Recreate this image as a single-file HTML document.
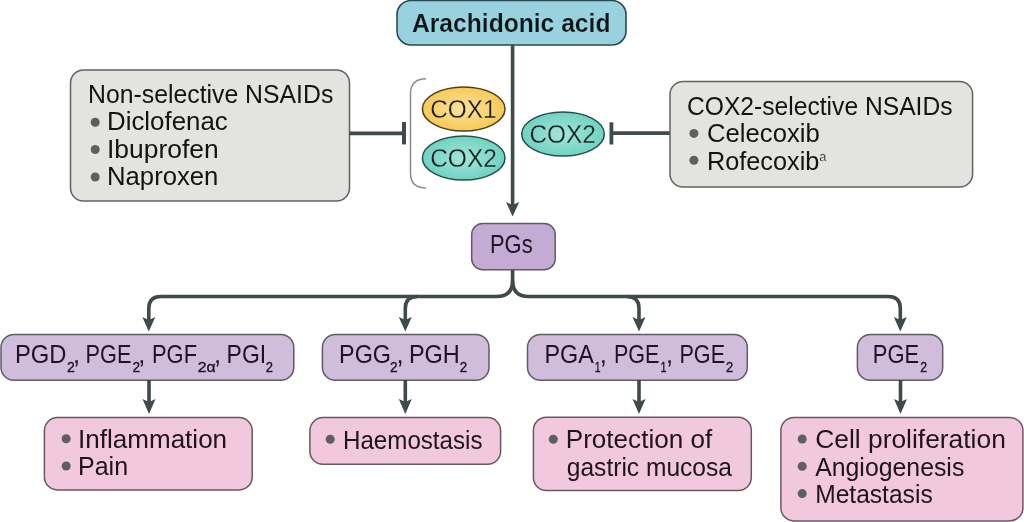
<!DOCTYPE html>
<html>
<head>
<meta charset="utf-8">
<style>
html,body{margin:0;padding:0;background:#ffffff;width:1024px;height:522px;overflow:hidden;}
svg{display:block;will-change:transform;}
text{font-family:"Liberation Sans",sans-serif;stroke-width:0;}
.t{font-size:25.8px;fill:#141312;stroke:#e3e3df;}
.b{font-weight:bold;font-size:25px;fill:#0c1416;stroke:#98d2de;stroke-width:0.2;}
.tp{font-size:25.5px;fill:#1e1226;stroke:#cfbddb;}
.t2{font-size:25px;fill:#1e141b;stroke:#f2c8df;}
.tcy{font-size:26.5px;fill:#1a1a10;stroke:#f8d888;stroke-width:0.3;}
.tct{font-size:26.5px;fill:#0e1f1e;stroke:#8edbcd;stroke-width:0.3;}
.sub{font-size:14.5px;stroke:#1e1226;stroke-width:0.35;}
.sup{font-size:13px;stroke-width:0.2;}
.bul{fill:#5f5e62;}
.ln{stroke:#3e4a4b;fill:none;stroke-width:3.6;}
.ah{fill:#3e4a4b;}
.bxb{fill:#98d2de;stroke:#2a4a52;stroke-width:1.6;}
.bxg{fill:#e3e3df;stroke:#626262;stroke-width:1.5;}
.bxp{fill:#cfbddb;stroke:#625a66;stroke-width:1.5;}
.bxk{fill:#f2c8df;stroke:#665a61;stroke-width:1.5;}
.ely{stroke:#4a3f20;stroke-width:1.5;}
.elt{stroke:#23514b;stroke-width:1.5;}

</style>
</head>
<body>
<svg width="1024" height="522" viewBox="0 0 1024 522">
<defs>
  <radialGradient id="gy" cx="50%" cy="50%" r="50%">
    <stop offset="0%" stop-color="#fde3a0"/>
    <stop offset="100%" stop-color="#f7c956"/>
  </radialGradient>
  <radialGradient id="gt" cx="50%" cy="50%" r="50%">
    <stop offset="0%" stop-color="#a6e6da"/>
    <stop offset="100%" stop-color="#70d2c0"/>
  </radialGradient>
</defs>

<!-- Arachidonic acid -->
<rect x="397" y="0.5" width="229" height="44.5" rx="14" ry="14" class="bxb"/>

<!-- main vertical line -->
<line x1="512.6" y1="45" x2="512.6" y2="206" class="ln"/>
<path d="M506 202 L512.6 205 L519.2 202 L512.6 216.5 Z" class="ah"/>

<!-- Left grey box -->
<rect x="70.5" y="70" width="279" height="131" rx="13" ry="13" class="bxg"/>

<!-- left inhibitor -->
<line x1="349.5" y1="133.4" x2="404" y2="133.4" class="ln"/>
<rect x="402" y="122" width="4" height="22.4" class="ah"/>

<!-- bracket -->
<path d="M426 78.7 Q410.5 78.7 410.5 94 L410.5 173 Q410.5 188 426 188" fill="none" stroke="#8c8c8c" stroke-width="1.5"/>

<!-- COX ellipses -->
<ellipse cx="463.7" cy="109" rx="41.3" ry="22" fill="url(#gy)" class="ely"/>
<ellipse cx="463.7" cy="158" rx="41.3" ry="22" fill="url(#gt)" class="elt"/>
<ellipse cx="563" cy="134" rx="41.3" ry="22" fill="url(#gt)" class="elt"/>

<!-- right inhibitor -->
<line x1="611" y1="133.1" x2="670" y2="133.1" class="ln"/>
<rect x="609.5" y="122.3" width="3.8" height="22.2" class="ah"/>

<!-- Right grey box -->
<rect x="670" y="81.5" width="302.6" height="105.5" rx="13" ry="13" class="bxg"/>

<!-- PGs -->
<rect x="471.7" y="223.6" width="83.5" height="46.2" rx="11" ry="11" class="bxp" style="fill:#c4abd4"/>

<!-- branch lines -->
<path d="M512.6 270 L512.6 280.5 Q512.6 296.5 496.6 296.5 L160.8 296.5 Q148.8 296.5 148.8 308.5 L148.8 320" class="ln"/>
<path d="M512.6 280.5 Q512.6 296.5 528.6 296.5 L888.3 296.5 Q900.3 296.5 900.3 308.5 L900.3 320" class="ln"/>
<path d="M417.3 296.5 Q405.3 296.5 405.3 308.5 L405.3 320" class="ln"/>
<path d="M627 296.5 Q639 296.5 639 308.5 L639 320" class="ln"/>
<path d="M142.3 317 L148.8 320 L155.3 317 L148.8 331.5 Z" class="ah"/>
<path d="M398.8 317 L405.3 320 L411.8 317 L405.3 331.5 Z" class="ah"/>
<path d="M632.5 317 L639 320 L645.5 317 L639 331.5 Z" class="ah"/>
<path d="M893.8 317 L900.3 320 L906.8 317 L900.3 331.5 Z" class="ah"/>

<!-- Purple row -->
<rect x="1" y="334.5" width="292.8" height="45.8" rx="13" ry="13" class="bxp"/>
<rect x="322.4" y="334.5" width="166.6" height="45.8" rx="13" ry="13" class="bxp"/>
<rect x="527.5" y="334.5" width="219.8" height="45.8" rx="13" ry="13" class="bxp"/>
<rect x="857.4" y="334.5" width="85.3" height="45.8" rx="13" ry="13" class="bxp"/>

<!-- arrows to pink -->
<line x1="149" y1="380" x2="149" y2="402" class="ln"/>
<path d="M142.5 399 L149 402 L155.5 399 L149 414 Z" class="ah"/>
<line x1="405.3" y1="380" x2="405.3" y2="402" class="ln"/>
<path d="M398.8 399 L405.3 402 L411.8 399 L405.3 414 Z" class="ah"/>
<line x1="639" y1="380" x2="639" y2="402" class="ln"/>
<path d="M632.5 399 L639 402 L645.5 399 L639 414 Z" class="ah"/>
<line x1="900.5" y1="380" x2="900.5" y2="402" class="ln"/>
<path d="M894 399 L900.5 402 L907 399 L900.5 414 Z" class="ah"/>

<!-- Pink row -->
<rect x="44.4" y="417.6" width="207.8" height="72.3" rx="13" ry="13" class="bxk"/>

<rect x="309.9" y="417.6" width="190.7" height="46.7" rx="13" ry="13" class="bxk"/>

<rect x="533.4" y="417.2" width="217.9" height="73.4" rx="13" ry="13" class="bxk"/>

<rect x="780.9" y="417.5" width="242" height="103.4" rx="13" ry="13" class="bxk"/>

<!-- bullets -->
<circle cx="95.2" cy="122.2" r="4.5" class="bul"/>
<circle cx="95.2" cy="149.5" r="4.5" class="bul"/>
<circle cx="95.2" cy="177.0" r="4.5" class="bul"/>
<circle cx="693.9" cy="133.4" r="4.5" class="bul"/>
<circle cx="693.9" cy="160.3" r="4.5" class="bul"/>
<circle cx="66.2" cy="438.8" r="4.5" class="bul"/>
<circle cx="66.2" cy="466.0" r="4.5" class="bul"/>
<circle cx="330.2" cy="439.2" r="4.5" class="bul"/>
<circle cx="553.3" cy="439.2" r="4.5" class="bul"/>
<circle cx="802.2" cy="439.0" r="4.5" class="bul"/>
<circle cx="802.2" cy="466.3" r="4.5" class="bul"/>
<circle cx="802.2" cy="493.6" r="4.5" class="bul"/>

<text x="412.00" y="31.6" class="t b" textLength="198.45" lengthAdjust="spacingAndGlyphs">Arachidonic acid</text>
<text x="88.00" y="103" class="t" textLength="245.31" lengthAdjust="spacingAndGlyphs">Non-selective NSAIDs</text>
<text x="107.00" y="130.3" class="t" textLength="120.73" lengthAdjust="spacingAndGlyphs">Diclofenac</text>
<text x="107.00" y="157.5" class="t" textLength="111.64" lengthAdjust="spacingAndGlyphs">Ibuprofen</text>
<text x="107.00" y="185" class="t" textLength="111.41" lengthAdjust="spacingAndGlyphs">Naproxen</text>
<text x="430.20" y="118.2" class="tcy" textLength="66.29" lengthAdjust="spacingAndGlyphs">COX1</text>
<text x="430.20" y="167.1" class="tct" textLength="66.69" lengthAdjust="spacingAndGlyphs">COX2</text>
<text x="529.50" y="143.4" class="tct" textLength="66.29" lengthAdjust="spacingAndGlyphs">COX2</text>
<text x="687.00" y="115" class="t" textLength="265.53" lengthAdjust="spacingAndGlyphs">COX2-selective NSAIDs</text>
<text x="707.00" y="142.2" class="t" textLength="112.78" lengthAdjust="spacingAndGlyphs">Celecoxib</text>
<text x="707.00" y="169.5" class="t" textLength="119.41" lengthAdjust="spacingAndGlyphs">Rofecoxib<tspan class="sup" dy="-9">a</tspan></text>
<text x="490.00" y="252.6" class="tp" textLength="42.59" lengthAdjust="spacingAndGlyphs">PGs</text>
<text x="14.90" y="363.2" class="tp" textLength="51.47" lengthAdjust="spacingAndGlyphs">PGD</text>
<text x="67.00" y="372.4" class="tp sub" textLength="7.83" lengthAdjust="spacingAndGlyphs">2</text>
<text x="73.00" y="363.2" class="tp">,</text>
<text x="85.60" y="363.2" class="tp" textLength="45.86" lengthAdjust="spacingAndGlyphs">PGE</text>
<text x="132.60" y="372.4" class="tp sub" textLength="7.63" lengthAdjust="spacingAndGlyphs">2</text>
<text x="138.20" y="363.2" class="tp">,</text>
<text x="152.00" y="363.2" class="tp" textLength="45.02" lengthAdjust="spacingAndGlyphs">PGF</text>
<text x="197.70" y="372.4" class="tp sub" textLength="17.95" lengthAdjust="spacingAndGlyphs">2α</text>
<text x="214.00" y="363.2" class="tp">,</text>
<text x="226.60" y="363.2" class="tp" textLength="39.54" lengthAdjust="spacingAndGlyphs">PGI</text>
<text x="265.80" y="372.4" class="tp sub" textLength="7.23" lengthAdjust="spacingAndGlyphs">2</text>
<text x="339.10" y="363.2" class="tp" textLength="51.89" lengthAdjust="spacingAndGlyphs">PGG</text>
<text x="390.00" y="372.4" class="tp sub" textLength="7.63" lengthAdjust="spacingAndGlyphs">2</text>
<text x="396.40" y="363.2" class="tp">,</text>
<text x="408.90" y="363.2" class="tp" textLength="50.87" lengthAdjust="spacingAndGlyphs">PGH</text>
<text x="459.80" y="372.4" class="tp sub" textLength="7.43" lengthAdjust="spacingAndGlyphs">2</text>
<text x="544.50" y="363.2" class="tp" textLength="49.26" lengthAdjust="spacingAndGlyphs">PGA</text>
<text x="594.70" y="372.4" class="tp sub" textLength="5.83" lengthAdjust="spacingAndGlyphs">1</text>
<text x="599.80" y="363.2" class="tp">,</text>
<text x="614.00" y="363.2" class="tp" textLength="45.46" lengthAdjust="spacingAndGlyphs">PGE</text>
<text x="660.60" y="372.4" class="tp sub" textLength="6.03" lengthAdjust="spacingAndGlyphs">1</text>
<text x="666.00" y="363.2" class="tp">,</text>
<text x="679.40" y="363.2" class="tp" textLength="45.66" lengthAdjust="spacingAndGlyphs">PGE</text>
<text x="726.00" y="372.4" class="tp sub" textLength="7.23" lengthAdjust="spacingAndGlyphs">2</text>
<text x="872.80" y="363.2" class="tp" textLength="46.26" lengthAdjust="spacingAndGlyphs">PGE</text>
<text x="920.20" y="372.4" class="tp sub" textLength="6.83" lengthAdjust="spacingAndGlyphs">2</text>
<text x="78.00" y="448.1" class="t2" textLength="149.12" lengthAdjust="spacingAndGlyphs">Inflammation</text>
<text x="78.00" y="475.2" class="t2" textLength="50.05" lengthAdjust="spacingAndGlyphs">Pain</text>
<text x="343.00" y="448.6" class="t2" textLength="139.50" lengthAdjust="spacingAndGlyphs">Haemostasis</text>
<text x="565.80" y="448.3" class="t2" textLength="146.36" lengthAdjust="spacingAndGlyphs">Protection of</text>
<text x="566.80" y="475.8" class="t2" textLength="165.13" lengthAdjust="spacingAndGlyphs">gastric mucosa</text>
<text x="815.20" y="448.0" class="t2" textLength="190.64" lengthAdjust="spacingAndGlyphs">Cell proliferation</text>
<text x="815.20" y="475.6" class="t2" textLength="149.12" lengthAdjust="spacingAndGlyphs">Angiogenesis</text>
<text x="815.20" y="502.8" class="t2" textLength="117.48" lengthAdjust="spacingAndGlyphs">Metastasis</text>
</svg>
</body>
</html>
